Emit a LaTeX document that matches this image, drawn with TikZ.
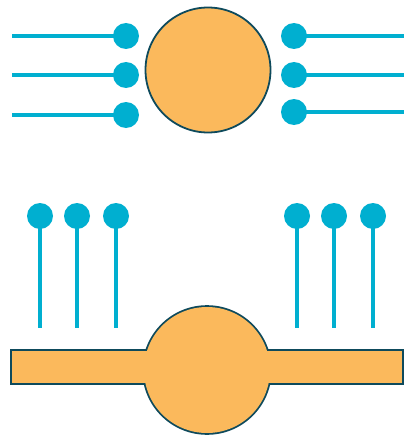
\documentclass[tikz,border=0pt]{standalone}
\usetikzlibrary{positioning}
\definecolor{cellorange}{HTML}{FBB95C}
\definecolor{celledge}{HTML}{0E4A5C}
\definecolor{ligblue}{HTML}{00AFD0}

\begin{document}
\begin{tikzpicture}[x=1pt, y=-1pt,
    ball/.style={circle, fill=ligblue, minimum size=26pt, inner sep=0pt},
    cell/.style={circle, draw=celledge, line width=1.8pt, fill=cellorange, minimum size=125pt, inner sep=0pt},
    stem/.style={draw=ligblue, line width=4pt},
  ]
  \useasboundingbox (0,0) rectangle (404,436);

  % Top cell with receptors on both sides
  \node[cell] (topcell) at (208,70) {};
  \foreach \i/\y in {1/36, 2/75, 3/115} {
    \coordinate (lend\i) at (12,\y);
    \node[ball] (lball\i) at (126,\y) {};
    \draw[stem] (lend\i) -- (lball\i.center);
  }
  \foreach \i/\y in {1/36, 2/75, 3/112} {
    \coordinate (rend\i) at (404,\y);
    \node[ball] (rball\i) at (294,\y) {};
    \draw[stem] (rball\i.center) -- (rend\i);
  }

  % Bottom cell fused with a bar
  \draw[celledge, line width=3.6pt] (12,351) rectangle (402,383);
  \draw[celledge, line width=3.6pt] (207,370) circle (63);
  \fill[cellorange] (12,351) rectangle (402,383);
  \fill[cellorange] (207,370) circle (63);

  % Free receptors above
  \foreach \i/\x in {1/40, 2/77, 3/116, 4/297, 5/334, 6/373} {
    \node[ball] (uball\i) at (\x,216) {};
    \coordinate (ufoot\i) at (\x,328);
    \draw[stem] (uball\i.center) -- (ufoot\i);
  }
\end{tikzpicture}
\end{document}
